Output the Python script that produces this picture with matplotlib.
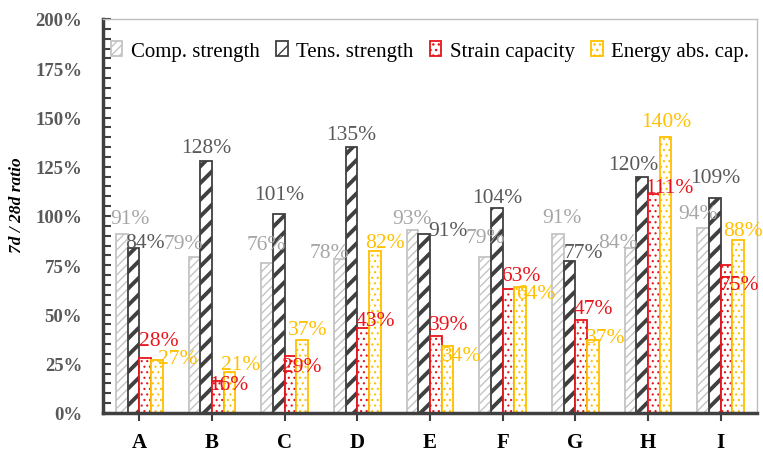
import numpy as np
import matplotlib
matplotlib.use("Agg")
import matplotlib.pyplot as plt
from matplotlib.ticker import MultipleLocator, FuncFormatter

plt.rcParams['font.family'] = ['Liberation Serif', 'DejaVu Serif']

# 7d / 28d ratios (%) per mix
mixes = ['A', 'B', 'C', 'D', 'E', 'F', 'G', 'H', 'I']
comp = [91, 79, 76, 78, 93, 79, 91, 84, 94]
tens = [84, 128, 101, 135, 91, 104, 77, 120, 109]
strain = [28, 16, 29, 43, 39, 63, 47, 111, 75]
energy = [27, 21, 37, 82, 34, 64, 37, 140, 88]

# label nudges in pixels (dx right, dy down) from the top centre of each bar
comp_off = [(8, -15), (-11.5, -14), (-1, -19), (-10.5, -7), (-1, -11), (0, -20), (4, -16), (-12.5, -5), (-5.5, -14)]
tens_off = [(11.5, -5.5), (0.5, -13), (0, -20), (0, -13), (23.5, -3), (0, -10.5), (13.5, -9), (-8.5, -12.5), (0, -21)]
strain_off = [(13.5, -17.5), (10.5, 3.5), (11, 11), (12, -8), (12.5, -12), (12.5, -13.5), (12.5, -11.5), (16, -7), (12.5, 19)]
energy_off = [(21, -1), (11, -7.5), (6, -11), (10.5, -9), (14, 9.5), (15.5, 7), (12.5, -2.5), (0.5, -15.5), (4.5, -9)]

fig = plt.figure(figsize=(7.63, 4.52), dpi=100)
ax = fig.add_axes([103 / 763, 38 / 452, 654 / 763, 394 / 452])

x = np.arange(len(mixes))
w = 0.16

series = [
    (comp, 'Comp. strength', '#C4C4C4', '////', 1.0, '#A6A6A6', comp_off),
    (tens, 'Tens. strength', '#404040', '//', 2.8, '#595959', tens_off),
    (strain, 'Strain capacity', '#E8141B', '...', 0.8, '#E8141B', strain_off),
    (energy, 'Energy abs. cap.', '#FFC000', '...', 0.8, '#FFC000', energy_off),
]

for k, (vals, name, col, hatch, hlw, lcol, offs) in enumerate(series):
    with plt.rc_context({'hatch.linewidth': hlw}):
        bars = ax.bar(x + (k - 1.5) * w, vals, w, facecolor='white', edgecolor=col,
                      hatch=hatch, linewidth=1.3, label=name, zorder=2)
        for b in bars:
            if hasattr(b, 'set_hatch_linewidth'):
                b.set_hatch_linewidth(hlw)
    for xi, v, (dx, dy) in zip(x, vals, offs):
        ax.annotate(f'{v}%', (xi + (k - 1.5) * w, v), xytext=(dx, -dy),
                    textcoords='offset pixels', ha='center', va='center',
                    fontsize=15.5, color=lcol, zorder=3)

ax.set_xlim(-0.5, len(mixes) - 0.5)
ax.set_ylim(0, 200)
ax.yaxis.set_major_locator(MultipleLocator(25))
ax.yaxis.set_minor_locator(MultipleLocator(5))
ax.yaxis.set_major_formatter(FuncFormatter(lambda v, p: f'{v:.0f}%'))
ax.set_xticks(x)
ax.set_xticklabels(mixes, fontsize=15, fontweight='bold')

ax.tick_params(axis='y', which='both', direction='in', length=6, width=1.5,
               color='#404040', pad=15)
ax.tick_params(axis='y', labelsize=13.5, labelcolor='#595959')
for t in ax.get_yticklabels():
    t.set_fontweight('bold')
ax.tick_params(axis='x', direction='out', length=6, width=1.5, color='#404040', pad=8)

for s in ['left', 'bottom']:
    ax.spines[s].set_color('#404040')
    ax.spines[s].set_linewidth(2.5)
for s in ['top', 'right']:
    ax.spines[s].set_color('#BFBFBF')
    ax.spines[s].set_linewidth(1)

ax.set_ylabel('7d / 28d ratio', fontsize=12.5, fontweight='bold', style='italic')
ax.yaxis.set_label_coords(-0.119, 0.53)

ax.legend(loc='upper left', bbox_to_anchor=(0.012, 0.945), ncol=4, frameon=False,
          fontsize=15, handlelength=0.55, handleheight=0.75, handletextpad=0.4,
          columnspacing=0.8, borderpad=0, borderaxespad=0)

fig.savefig('out.png', dpi=100)
